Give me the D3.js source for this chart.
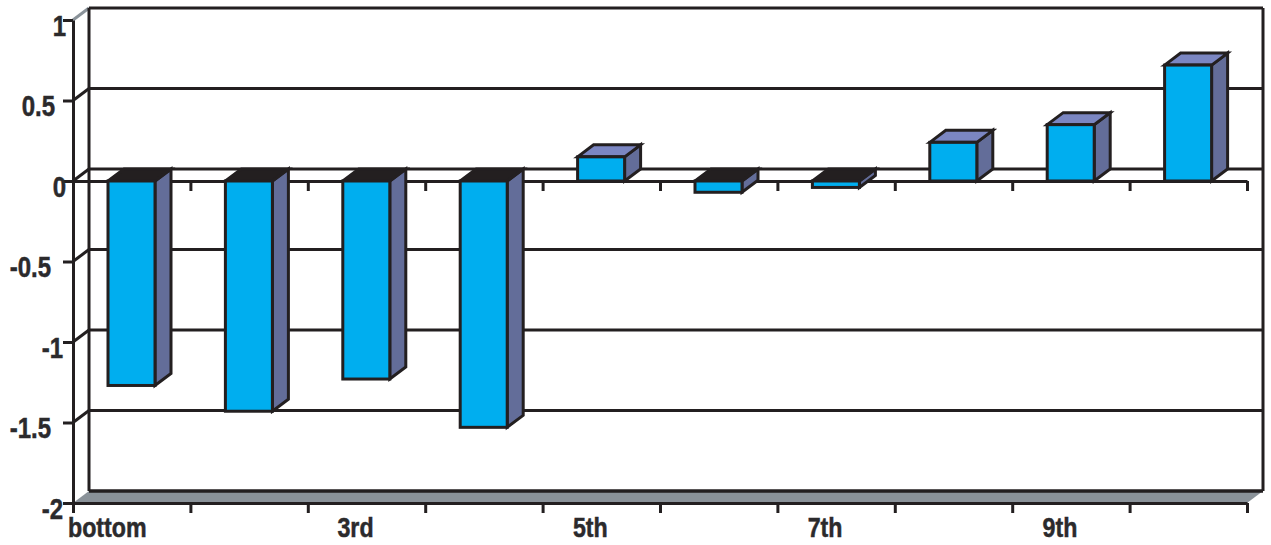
<!DOCTYPE html>
<html>
<head>
<meta charset="utf-8">
<script src="https://cdn.jsdelivr.net/npm/d3@7/dist/d3.min.js"></script>
<style>
html,body{margin:0;padding:0;background:#fff;overflow:hidden}
text{font-family:"Liberation Sans",Arial,sans-serif;font-weight:700;fill:#2b2a2c;stroke:#2b2a2c;stroke-width:0.5}
</style>
</head>
<body>
<svg id="chart" width="1271" height="545"></svg>
<script>
// Decile groups and their values
const categories = ["bottom","2nd","3rd","4th","5th","6th","7th","8th","9th","10th"];
const shownLabels = ["bottom","3rd","5th","7th","9th"];
const values = [-1.27,-1.43,-1.23,-1.53,0.15,-0.07,-0.04,0.24,0.35,0.72];
const valueTicks = [1,0.5,0,-0.5,-1,-1.5,-2];

const INK = "#231f20", FRONT = "#00aeef", SIDE = "#636d99", TOP = "#7b86c2", FLOOR = "#8a9299";
const depthX = 16, depthY = -12;
const narrow = 0.8;

const svg = d3.select("#chart");
const x = d3.scaleBand().domain(categories).range([73,1247]).paddingInner(0).paddingOuter(0);
const y = d3.scaleLinear().domain([-2,1]).range([503,20]);
const x0 = x.range()[0], x1 = x.range()[1];
const barW = 47, barOff = 35;
const pts = a => a.map(p => p.join(",")).join(" ");

// Back wall gridlines and the connectors running to the front axis
const grid = svg.append("g").attr("stroke",INK).attr("stroke-width",3).attr("fill","none");
valueTicks.filter(v => v > -2).forEach(v => {
  grid.append("line").attr("x1",x0+depthX).attr("x2",x1+depthX)
    .attr("y1",y(v)+depthY).attr("y2",y(v)+depthY);
  grid.append("line").attr("x1",x0).attr("x2",x0+depthX)
    .attr("y1",y(v)).attr("y2",y(v)+depthY)
    .attr("stroke", v === 1 ? "#8a9299" : INK);
});
grid.append("line").attr("x1",x0+depthX).attr("x2",x0+depthX).attr("y1",y(1)+depthY).attr("y2",y(-2)+depthY);
grid.append("line").attr("x1",x1+depthX).attr("x2",x1+depthX).attr("y1",y(1)+depthY).attr("y2",y(-2)+depthY);

// Floor of the plot box
svg.append("polygon")
  .attr("points",pts([[x0,y(-2)],[x0+depthX,y(-2)+depthY],[x1+depthX,y(-2)+depthY],[x1,y(-2)]]))
  .attr("fill",FLOOR);
svg.append("line").attr("x1",x0+depthX).attr("x2",x1+depthX).attr("y1",y(-2)+depthY).attr("y2",y(-2)+depthY)
  .attr("stroke",INK).attr("stroke-width",3.5);

// Axis along the bottom with tick marks on the group boundaries
const edges = d3.range(categories.length+1).map(i => x0 + i*x.step());
const edgeScale = d3.scaleLinear().domain([x0,x1]).range([x0,x1]);
const styleAxis = g => g.selectAll("path,line").attr("stroke",INK).attr("stroke-width",3);

svg.append("g").attr("transform",`translate(0,${y(-2)})`)
  .call(d3.axisBottom(edgeScale).tickValues(edges).tickSize(10).tickSizeOuter(0).tickFormat(""))
  .call(styleAxis);

// Zero baseline carrying the same tick marks
svg.append("g").attr("transform",`translate(0,${y(0)})`)
  .call(d3.axisBottom(edgeScale).tickValues(edges).tickSize(10).tickSizeOuter(0).tickFormat(""))
  .call(styleAxis);

// Value axis, with condensed labels
const leftAxis = svg.append("g").attr("transform",`translate(${x0},0)`)
  .call(d3.axisLeft(y).tickValues(valueTicks).tickSize(10).tickSizeOuter(0).tickFormat(d => String(d)))
  .call(styleAxis);
leftAxis.selectAll("text")
  .attr("font-size",30).attr("text-anchor","end").attr("x",0)
  .attr("dy","0.5em")
  .attr("transform", d => {
    let end = -10;
    if (d === 1 || d === 0) end = -7;
    else if (d === 0.5) end = -18;
    else if (!Number.isInteger(d)) end = -22;
    return `translate(${end},0) scale(${narrow},1)`;
  });

// Category labels: every other group; the first one starts at the axis
const catLabels = svg.append("g");
shownLabels.forEach((name,i) => {
  const t = catLabels.append("text").attr("font-size",27).attr("text-anchor","middle").text(name);
  const w = t.node().getComputedTextLength() * 0.86;
  const cx = i === 0 ? x0 - 5 + w/2 : x(name) + x.step()/2 - 11;
  t.attr("transform",`translate(${cx},537) scale(0.86,1)`);
});

// Bars as three visible faces
const bars = svg.append("g").attr("stroke",INK).attr("stroke-width",3).attr("stroke-linejoin","miter")
  .selectAll("g").data(categories).join("g");
bars.each(function(c,i){
  const g = d3.select(this), v = values[i];
  const l = x(c)+barOff, r = l+barW;
  const hi = y(Math.max(v,0)), lo = y(Math.min(v,0));
  g.append("polygon").attr("points",pts([[r,hi],[r+depthX,hi+depthY],[r+depthX,lo+depthY],[r,lo]])).attr("fill",SIDE);
  g.append("polygon").attr("points",pts([[l,hi],[l+depthX,hi+depthY],[r+depthX,hi+depthY],[r,hi]])).attr("fill",v<0?INK:TOP);
  g.append("rect").attr("x",l).attr("y",hi).attr("width",barW).attr("height",lo-hi).attr("fill",FRONT);
});
</script>
</body>
</html>
